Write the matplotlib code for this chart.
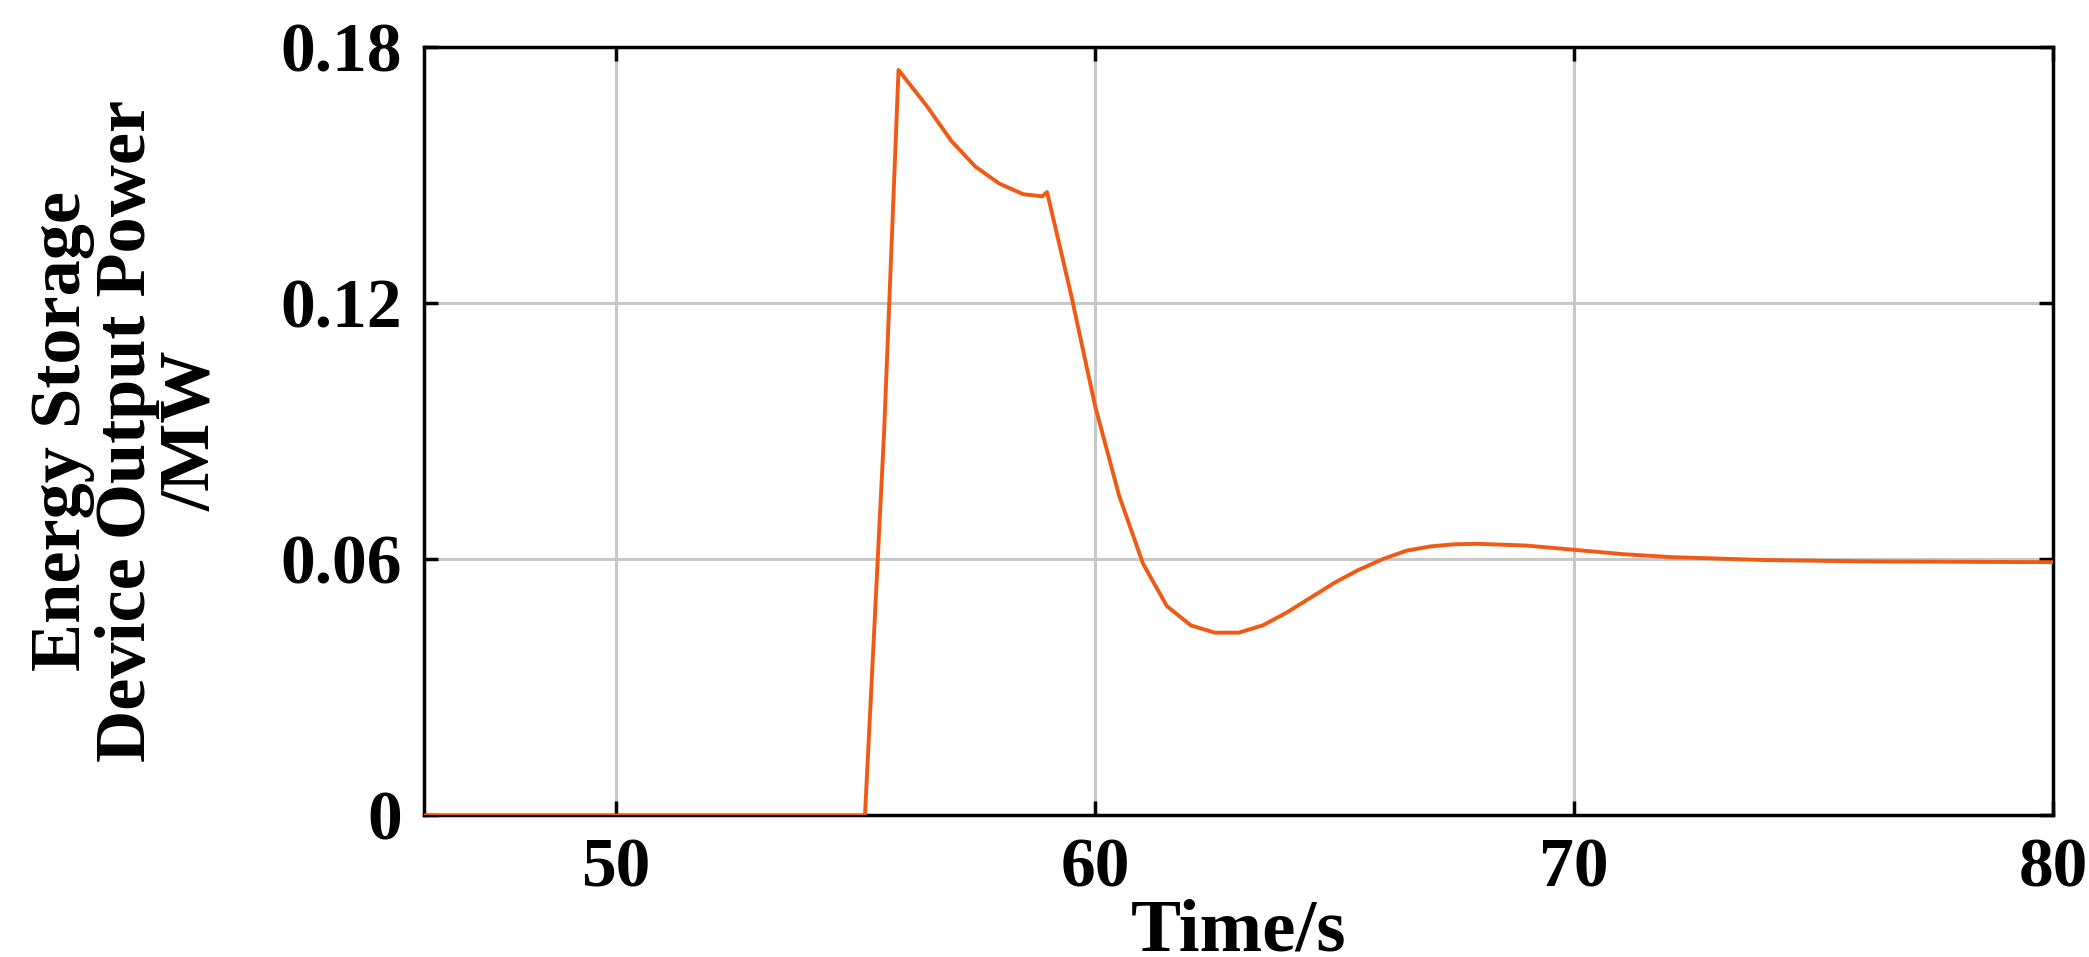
import matplotlib
matplotlib.use("Agg")
import matplotlib.pyplot as plt

# values
time_s = [46, 55.2, 55.6, 55.9, 56.5, 57.0, 57.5, 58.0, 58.5, 58.9, 59.0,
          59.5, 60.0, 60.5, 61.0, 61.5, 62.0, 62.5, 63.0, 63.5, 64.0, 64.5,
          65.0, 65.5, 66.0, 66.5, 67.0, 67.5, 68.0, 69.0, 70.0, 71.0, 72.0,
          74.0, 76.0, 78.0, 80.0]
power_mw = [0, 0, 0.09, 0.1746, 0.166, 0.158, 0.152, 0.148, 0.1455, 0.145, 0.146,
            0.122, 0.096, 0.075, 0.059, 0.049, 0.0445, 0.0428, 0.0428, 0.0445, 0.0475, 0.051,
            0.0545, 0.0575, 0.060, 0.062, 0.063, 0.0635, 0.0636, 0.0632, 0.0622, 0.0612, 0.0605,
            0.0598, 0.0595, 0.0594, 0.0593]

xticks = [50, 60, 70, 80]
yticks = [0, 0.06, 0.12, 0.18]
ytick_labels = ["0", "0.06", "0.12", "0.18"]

plt.rcParams['font.family'] = ['Liberation Serif', 'DejaVu Serif']
plt.rcParams['font.weight'] = 'bold'

fig = plt.figure(figsize=(20.89, 9.57), dpi=100)
ax = fig.add_axes([0.203, 0.148, 0.78, 0.803])
ax.plot(time_s, power_mw, color='#F05A14', lw=2.8, zorder=3)

ax.set_xlim(46, 80)
ax.set_ylim(0, 0.18)
ax.set_xticks(xticks)
ax.set_yticks(yticks)
ax.set_yticklabels(ytick_labels)
ax.grid(True, color='#c8c8c8', lw=2.2)
ax.tick_params(direction='in', length=10, width=2.5, labelsize=50,
               top=True, right=True, pad=16)
for s in ax.spines.values():
    s.set_linewidth(2.5)
for lab in ax.get_xticklabels() + ax.get_yticklabels():
    lab.set_fontweight('bold')

ax.set_xlabel("Time/s", fontsize=54, fontweight='bold', labelpad=-2)
ax.set_ylabel("Energy Storage\nDevice Output Power\n/MW", fontsize=52,
              fontweight='bold', labelpad=40, linespacing=1.0)

fig.savefig("out.png", dpi=100)
